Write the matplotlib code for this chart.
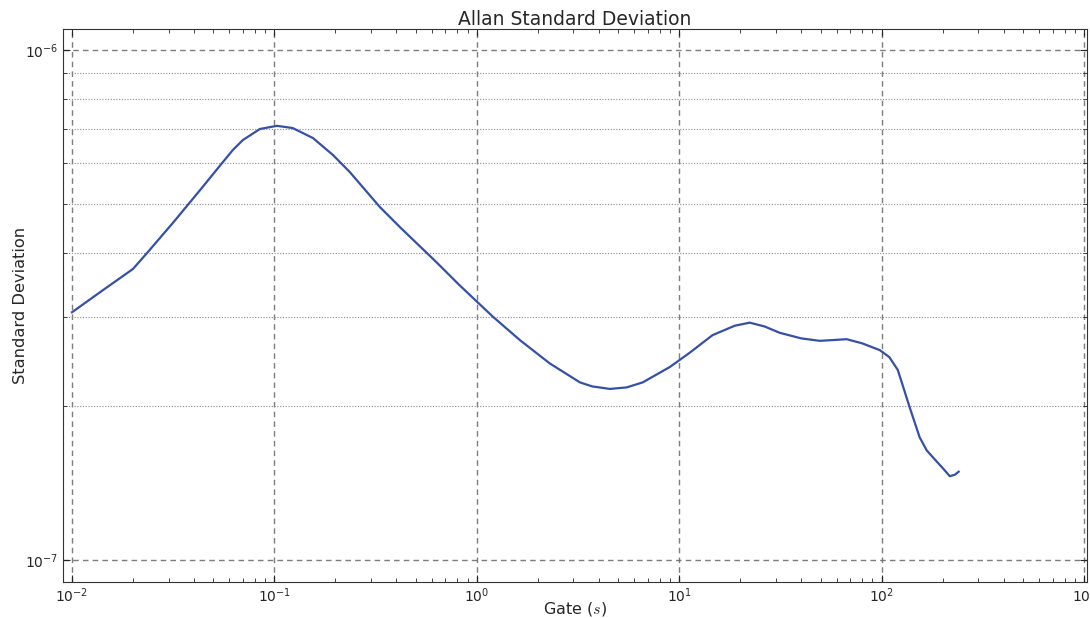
import numpy as np
import matplotlib
matplotlib.use('Agg')
import matplotlib.pyplot as plt
from matplotlib.ticker import LogLocator, NullFormatter

# gate times (s) and Allan deviation
tau = [0.01, 0.0142, 0.02, 0.0235, 0.0315, 0.0429, 0.0538, 0.0624, 0.0699,
       0.0848, 0.103, 0.123, 0.155, 0.195, 0.236, 0.332, 0.418, 0.566, 0.63,
       0.82, 0.923, 1.2, 1.63, 2.29, 3.23, 3.71, 4.54, 5.5, 6.6, 8.98, 11.27,
       14.6, 18.8, 22.3, 26.4, 31.3, 40.0, 49.4, 58.0, 67.1, 80.0, 97.7,
       109.0, 120.0, 127.0, 137.0, 154.0, 167.0, 179.0, 200.0, 217.0, 230.0,
       240.0]
adev = [3.06e-7, 3.38e-7, 3.72e-7, 4.0e-7, 4.58e-7, 5.31e-7, 5.93e-7, 6.37e-7,
        6.66e-7, 7.0e-7, 7.10e-7, 7.03e-7, 6.72e-7, 6.22e-7, 5.76e-7, 4.92e-7,
        4.49e-7, 4.0e-7, 3.84e-7, 3.46e-7, 3.31e-7, 3.0e-7, 2.70e-7, 2.43e-7,
        2.23e-7, 2.19e-7, 2.165e-7, 2.18e-7, 2.23e-7, 2.39e-7, 2.55e-7,
        2.76e-7, 2.88e-7, 2.92e-7, 2.87e-7, 2.79e-7, 2.72e-7, 2.69e-7,
        2.70e-7, 2.71e-7, 2.66e-7, 2.58e-7, 2.50e-7, 2.36e-7, 2.2e-7, 2.0e-7,
        1.74e-7, 1.64e-7, 1.59e-7, 1.515e-7, 1.46e-7, 1.47e-7, 1.49e-7]

txt = '#262626'
plt.rcParams['xtick.direction'] = 'in'
plt.rcParams['ytick.direction'] = 'in'
plt.rcParams['axes.unicode_minus'] = False

fig = plt.figure(figsize=(10.9, 6.18), dpi=100)
ax = fig.add_axes([0.0578, 0.0583, 0.9392, 0.8947])

ax.loglog(tau, adev, color='#3550a6', lw=1.6)

ax.set_xlim(0.00903, 1030)
ax.set_ylim(10**-7.043, 10**-5.959)

ax.yaxis.set_minor_locator(LogLocator(base=10, subs=np.arange(2, 10)))
ax.yaxis.set_minor_formatter(NullFormatter())
ax.xaxis.set_minor_locator(LogLocator(base=10, subs=np.arange(2, 10)))
ax.xaxis.set_minor_formatter(NullFormatter())

ax.grid(True, which='major', ls=(0, (4, 3)), color='#666666', lw=1.0, alpha=0.85)
ax.grid(True, which='minor', axis='y', ls=(0, (1, 1.5)), color='#888888', lw=0.8)

ax.tick_params(which='both', top=True, right=True, colors=txt, labelsize=10)
ax.tick_params(which='major', length=5)
ax.tick_params(which='minor', length=3)
for s in ax.spines.values():
    s.set_color('#333333')

ax.set_title('Allan Standard Deviation', fontsize=13.5, color=txt, pad=3)
ax.set_xlabel('Gate ($s$)', fontsize=11.5, color=txt, math_fontfamily='cm')
ax.set_ylabel('Standard Deviation', fontsize=11.7, color=txt)
ax.xaxis.set_label_coords(0.5, -0.033)
ax.yaxis.set_label_coords(-0.034, 0.5)

fig.savefig('out.png', dpi=100)
